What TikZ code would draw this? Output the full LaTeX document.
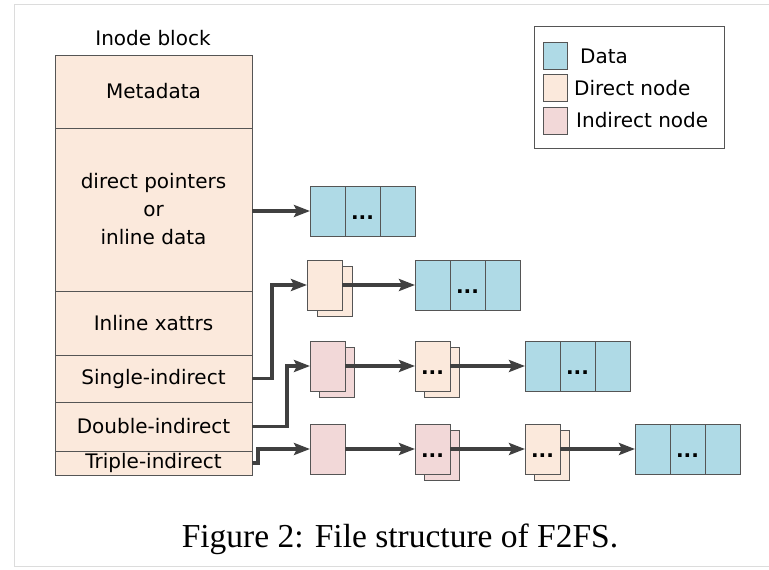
\documentclass[tikz,border=0pt]{standalone}
\usepackage{fontspec}
\setmainfont{DejaVu Sans}
\newfontfamily\capfont{Liberation Serif}
\usetikzlibrary{arrows.meta}
\definecolor{inodec}{HTML}{FBE9DC}
\definecolor{datac}{HTML}{AFDAE6}
\definecolor{indc}{HTML}{F2D8D8}
\definecolor{linec}{HTML}{555555}
\definecolor{arrc}{HTML}{404040}
\definecolor{framec}{HTML}{DCDCDC}
\begin{document}
\begin{tikzpicture}[x=1pt,y=-1pt,
 lbl/.style={font=\fontsize{20}{28}\selectfont},
 box/.style={draw=linec, line width=0.9pt, anchor=north west, inner sep=0pt, outer sep=0pt},
 icell/.style={box, fill=inodec, minimum width=197pt, lbl},
 dcell/.style={box, fill=datac, minimum width=35pt, minimum height=50pt, lbl},
 dirn/.style={box, fill=inodec, minimum width=35pt, minimum height=50pt, lbl},
 indn/.style={box, fill=indc, minimum width=35pt, minimum height=50pt, lbl},
 dots/.style={text height=16pt, text depth=0pt, font=\fontsize{20}{28}\selectfont\bfseries},
 conn/.style={draw=arrc, line width=3.2pt, -{Stealth[length=16pt,width=12pt,inset=3pt]}},
 sw/.style={box, minimum width=24pt, minimum height=27pt},
 legtext/.style={lbl, anchor=base west, inner sep=0pt},
]
\useasboundingbox (0,0) rectangle (769,570);
\fill[white] (0,0) rectangle (769,570);
\draw[framec, line width=1pt] (769,4) -- (14,4) -- (14,566) -- (769,566);

% Inode block
\node[lbl] (title) at (153,38) {Inode block};
\node[icell, minimum height=73pt] (meta) at (55,55) {Metadata};
\node[icell, minimum height=163pt, align=center] (dptr) at (55,128) {direct pointers\\or\\inline data};
\node[icell, minimum height=64pt] (xattr) at (55,291) {Inline xattrs};
\node[icell, minimum height=47pt] (single) at (55,355) {Single-indirect};
\node[icell, minimum height=49pt] (double) at (55,402) {Double-indirect};
\node[icell, minimum height=24pt] (triple) at (55,451) {Triple-indirect};

% Row 1
\node[dcell] (a1) at (310,186) {};
\node[dcell, dots] (a2) at (345,186) {...};
\node[dcell] (a3) at (380,186) {};

% Row 2
\node[dirn] (b1back) at (317,266) {};
\node[dirn] (b1) at (307,260) {};
\node[dcell] (b2) at (415,260) {};
\node[dcell, dots] (b3) at (450,260) {...};
\node[dcell] (b4) at (485,260) {};

% Row 3
\node[indn] (c1back) at (319,347) {};
\node[indn] (c1) at (310,341) {};
\node[dirn] (c2back) at (424,347) {};
\node[dirn, dots] (c2) at (415,341) {...};
\node[dcell] (c3) at (525,341) {};
\node[dcell, dots] (c4) at (560,341) {...};
\node[dcell] (c5) at (595,341) {};

% Row 4
\node[indn] (d1) at (310,424) {};
\node[indn] (d2back) at (424,430) {};
\node[indn, dots] (d2) at (415,424) {...};
\node[dirn] (d3back) at (534,430) {};
\node[dirn, dots] (d3) at (525,424) {...};
\node[dcell] (d4) at (635,424) {};
\node[dcell, dots] (d5) at (670,424) {...};
\node[dcell] (d6) at (705,424) {};

% Connectors
\draw[conn] (dptr.east |- a1.west) -- (a1.west);
\draw[conn] (single.east) -- ++(20,0) |- (b1.west);
\draw[conn] (b1.east) -- (b2.west);
\draw[conn] (double.east) -- ++(35,0) |- (c1.west);
\draw[conn] (c1.east) -- (c2.west);
\draw[conn] (c2.east) -- (c3.west);
\draw[conn] (triple.east) -- ++(6,0) |- (d1.west);
\draw[conn] (d1.east) -- (d2.west);
\draw[conn] (d2.east) -- (d3.west);
\draw[conn] (d3.east) -- (d4.west);

% Legend
\node[box, fill=white, minimum width=190pt, minimum height=122pt] (legend) at (534,26) {};
\node[sw, fill=datac] (swd) at (543,42) {};
\node[sw, fill=inodec] (swdn) at (543,74.5) {};
\node[sw, fill=indc] (swin) at (543,107) {};
\node[legtext] (ld) at (580,63) {Data};
\node[legtext] (ldn) at (574,95) {Direct node};
\node[legtext] (lin) at (576,127) {Indirect node};

% Caption
\node[font=\capfont\fontsize{33.5}{40}\selectfont, anchor=base, inner sep=0pt] (cap) at (400,547) {Figure 2: File structure of F2FS.};
\end{tikzpicture}
\end{document}
